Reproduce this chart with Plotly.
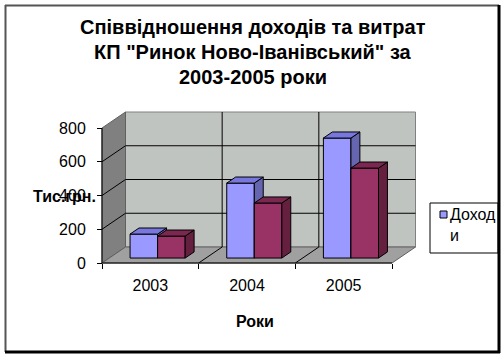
import plotly.graph_objects as go

# ---- data ----
years = ["2003", "2004", "2005"]
income = [142, 444, 711]      # Доходи
expenses = [130, 326, 533]    # Витрати
y_ticks = [0, 200, 400, 600, 800]
y_max = 800
title_lines = ["Співвідношення доходів та витрат", "КП \"Ринок Ново-Іванівський\" за", "2003-2005 роки"]

W, H = 504, 357
# pixel geometry of the front plane
X0_PX, X3_PX = 102, 392
Y0_PX, Y800_PX = 263, 128
sx = (X3_PX - X0_PX) / 3.0
sy = (Y0_PX - Y800_PX) / 800.0
xr = [-X0_PX / sx, (W - X0_PX) / sx]
yr = [-(H - Y0_PX) / sy, Y0_PX / sy]

DXu = 23.5 / sx   # depth offset in x units
DYu = 16.0 / sy   # depth offset in y units
f0, f1 = 0.31, 0.69
bw = 0.285

fig = go.Figure()

def poly(xs, ys, fill, line="#000000", lw=1):
    fig.add_trace(go.Scatter(x=xs + [xs[0]], y=ys + [ys[0]], mode="lines", fill="toself",
                             fillcolor=fill, line=dict(color=line, width=lw),
                             hoverinfo="skip", showlegend=False))

def seg(xs, ys, color="#000000", lw=1):
    fig.add_trace(go.Scatter(x=xs, y=ys, mode="lines", line=dict(color=color, width=lw),
                             hoverinfo="skip", showlegend=False))

n = len(years)
# back wall
poly([DXu, n + DXu, n + DXu, DXu], [DYu, DYu, y_max + DYu, y_max + DYu], "#c0c4c0", "#808080")
# left wall
poly([0, 0, DXu, DXu], [0, y_max, y_max + DYu, DYu], "#808080", "#606060")
# floor
poly([0, n, n + DXu, DXu], [0, 0, DYu, DYu], "#a0a0a0", "#606060")
# gridlines on walls
for v in y_ticks[1:-1]:
    seg([0, DXu, n + DXu], [v, v + DYu, v + DYu])
for i in range(1, n):
    seg([i, i + DXu, i + DXu], [0, DYu, y_max + DYu])
seg([0, n], [0, 0], "#000000")
seg([0, 0], [0, y_max], "#000000")

colors = [("#9999ff", "#7777dd", "#6666b0"), ("#993366", "#7a2850", "#66203f")]
base = f0 * DYu
ddx, ddy = (f1 - f0) * DXu, (f1 - f0) * DYu
for i in range(n):
    for s, vals in enumerate([income, expenses]):
        front, top, side = colors[s]
        xl = i + 0.5 - bw + s * bw + f0 * DXu
        xrr = xl + bw
        yt = base + vals[i]
        poly([xl, xrr, xrr, xl], [base, base, yt, yt], front)
        poly([xrr, xrr + ddx, xrr + ddx, xrr], [base, base + ddy, yt + ddy, yt], side)
        poly([xl, xrr, xrr + ddx, xl + ddx], [yt, yt, yt + ddy, yt + ddy], top)

font = "Liberation Sans, Arial, sans-serif"
fig.update_layout(
    width=W, height=H, margin=dict(l=0, r=0, t=0, b=0),
    paper_bgcolor="white", plot_bgcolor="rgba(0,0,0,0)",
    showlegend=False,
    font=dict(family=font, size=16, color="#000000"),
    xaxis=dict(range=xr, showgrid=False, zeroline=False, anchor="free",
               position=(H - Y0_PX) / H, tickmode="array",
               tickvals=[i + 0.5 for i in range(n)], ticktext=years, ticks="",
               ticklabelstandoff=11, tickfont=dict(size=16),
               minor=dict(tickmode="array", tickvals=list(range(n + 1)), ticks="outside",
                          ticklen=5, tickcolor="#000000")),
    yaxis=dict(range=yr, showgrid=False, zeroline=False, anchor="free",
               position=X0_PX / W, tickmode="array", tickvals=y_ticks,
               ticks="outside", ticklen=5, tickcolor="#000000",
               ticklabelstandoff=8, tickfont=dict(size=16)),
)

# title lines
for k, (line, yc) in enumerate(zip(title_lines, [27, 52, 77])):
    fig.add_annotation(text="<b>" + line + "</b>", xref="paper", yref="paper", x=253 / W, y=1 - yc / H,
                       xanchor="center", yanchor="middle", showarrow=False, font=dict(size=20))

# axis titles
fig.add_annotation(text="<b>Тис.грн.</b>", xref="paper", yref="paper", x=31 / W, y=1 - 196 / H,
                   xanchor="left", yanchor="middle", showarrow=False, font=dict(size=16))
fig.add_annotation(text="<b>Роки</b>", xref="paper", yref="paper", x=255 / W, y=1 - 321 / H,
                   xanchor="center", yanchor="middle", showarrow=False, font=dict(size=16))

# legend (manual)
fig.add_shape(type="rect", xref="paper", yref="paper", x0=430 / W, x1=498 / W,
              y0=1 - 253 / H, y1=1 - 203 / H, line=dict(color="#000000", width=1),
              fillcolor="white")
fig.add_shape(type="rect", xref="paper", yref="paper", x0=440 / W, x1=447 / W,
              y0=1 - 218 / H, y1=1 - 211 / H, line=dict(color="#000000", width=1),
              fillcolor="#9999ff")
fig.add_annotation(text="Доход<br>и", xref="paper", yref="paper", x=448 / W, y=1 - 204 / H,
                   xanchor="left", yanchor="top", align="left", showarrow=False,
                   font=dict(size=16))

# chart border
fig.add_shape(type="line", xref="paper", yref="paper", x0=5.5 / W, x1=5.5 / W, y0=1 - 352 / H, y1=1 - 5 / H,
              line=dict(color="#555555", width=2))
fig.add_shape(type="line", xref="paper", yref="paper", x0=5 / W, x1=499 / W, y0=1 - 5.5 / H, y1=1 - 5.5 / H,
              line=dict(color="#555555", width=2))
fig.add_shape(type="line", xref="paper", yref="paper", x0=499 / W, x1=499 / W, y0=1 - 353 / H, y1=1 - 5 / H,
              line=dict(color="#000000", width=3))
fig.add_shape(type="line", xref="paper", yref="paper", x0=5 / W, x1=500 / W, y0=1 - 352 / H, y1=1 - 352 / H,
              line=dict(color="#000000", width=3))

fig.write_html("out.html", config={"displayModeBar": False},
               post_script="document.body.style.margin='0';document.body.style.overflow='hidden';")
